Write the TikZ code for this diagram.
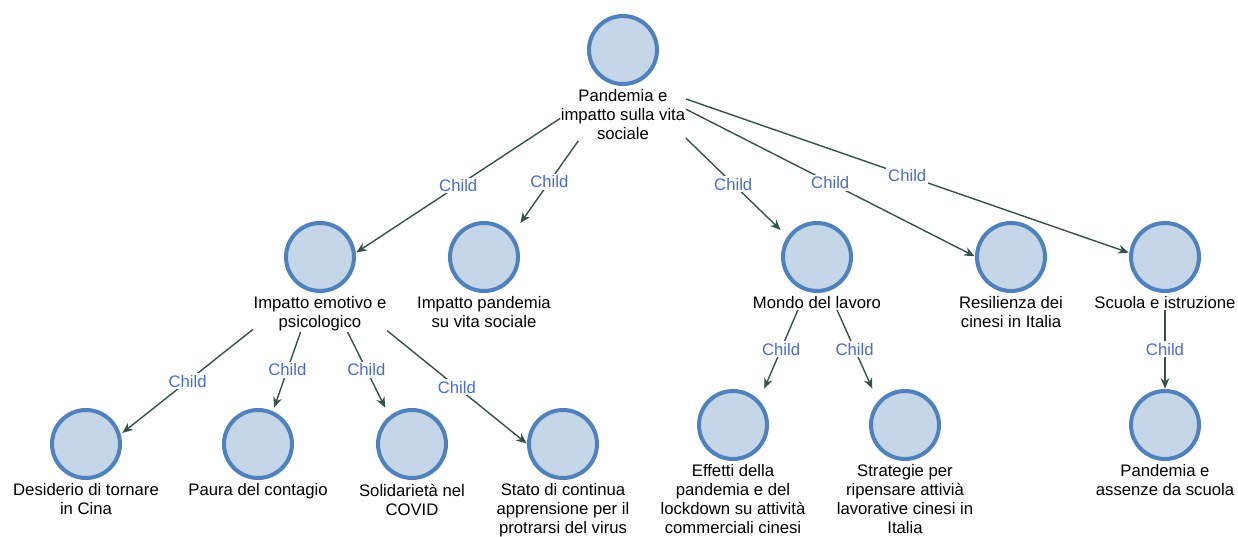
\documentclass[tikz,border=0pt]{standalone}
\usepackage{fontspec}
\setmainfont{Liberation Sans}
\usepackage{tikz}
\usetikzlibrary{arrows.meta,positioning,fit}
\usepackage{xcolor}
\definecolor{cmblue}{RGB}{79,129,189}
\definecolor{cmfill}{RGB}{197,214,233}
\definecolor{cmedge}{RGB}{52,82,78}
\definecolor{cmlabel}{RGB}{72,108,206}
\tikzstyle{concept} = [circle, draw=cmblue, fill=cmfill, line width=2.3pt, minimum size=1.36cm, inner sep=0]
\tikzstyle{caption} = [align=center, inner sep=0, font=\fontsize{9.5}{10.8}\selectfont]
\tikzstyle{group} = [inner sep=0]
\tikzstyle{arrow} = [->,>={Stealth[length=6pt,width=5pt]},line width=0.8pt,color=cmedge]
\tikzstyle{child} = [midway, fill=white, inner sep=1pt, text=cmlabel, font=\fontsize{9.5}{10.8}\selectfont]

\begin{document}
\begin{tikzpicture}[x=0.02cm, y=-0.02cm]
\useasboundingbox (0,0) rectangle (1238,537);
% Nodes
\node (root) [concept] at (623,50) {};
\node (root-t) [caption, below=2pt of root] {Pandemia e\\impatto sulla vita\\sociale};
\node (root-out) [group, fit=(root)(root-t)] {};

\node (emo) [concept] at (320,257) {};
\node (emo-t) [caption, below=2pt of emo] {Impatto emotivo e\\psicologico};
\node (emo-out) [group, fit=(emo)(emo-t)] {};
\node (emo-in) [group, fit=(emo)(emo-t.south)] {};
\node (pan) [concept] at (484,257) {};
\node (pan-t) [caption, below=2pt of pan] {Impatto pandemia\\su vita sociale};
\node (pan-in) [group, fit=(pan)(pan-t.south)] {};
\node (lav) [concept] at (817,257) {};
\node (lav-t) [caption, below=2pt of lav] {Mondo del lavoro};
\node (lav-out) [group, fit=(lav)(lav-t)] {};
\node (lav-in) [group, fit=(lav)(lav-t.south)] {};
\node (res) [concept] at (1011,257) {};
\node (res-t) [caption, below=2pt of res] {Resilienza dei\\cinesi in Italia};
\node (res-in) [group, fit=(res)(res-t.south)] {};
\node (scu) [concept] at (1165,257) {};
\node (scu-t) [caption, below=2pt of scu] {Scuola e istruzione};
\node (scu-out) [group, fit=(scu)(scu-t)] {};
\node (scu-in) [group, fit=(scu)(scu-t.south)] {};

\node (des) [concept] at (86,444) {};
\node (des-t) [caption, below=2pt of des] {Desiderio di tornare\\in Cina};
\node (des-in) [group, fit=(des)(des-t.south)] {};
\node (pau) [concept] at (258,444) {};
\node (pau-t) [caption, below=2pt of pau] {Paura del contagio};
\node (pau-in) [group, fit=(pau)(pau-t.south)] {};
\node (sol) [concept] at (412,444) {};
\node (sol-t) [caption, below=2pt of sol] {Solidarietà nel\\COVID};
\node (sol-in) [group, fit=(sol)(sol-t.south)] {};
\node (sta) [concept] at (563,444) {};
\node (sta-t) [caption, below=2pt of sta] {Stato di continua\\apprensione per il\\protrarsi del virus};
\node (sta-in) [group, fit=(sta)(sta-t.south)] {};

\node (eff) [concept] at (733,425) {};
\node (eff-t) [caption, below=2pt of eff] {Effetti della\\pandemia e del\\lockdown su attività\\commerciali cinesi};
\node (eff-in) [group, fit=(eff)(eff-t.south)] {};
\node (str) [concept] at (905,425) {};
\node (str-t) [caption, below=2pt of str] {Strategie per\\ripensare attivià\\lavorative cinesi in\\Italia};
\node (str-in) [group, fit=(str)(str-t.south)] {};
\node (ass) [concept] at (1165,425) {};
\node (ass-t) [caption, below=2pt of ass] {Pandemia e\\assenze da scuola};
\node (ass-in) [group, fit=(ass)(ass-t.south)] {};

% Arrows
\draw[arrow] (root-out) -- node[child] {Child} (emo-in);
\draw[arrow] (root-out) -- node[child] {Child} (pan-in);
\draw[arrow] (root-out) -- node[child] {Child} (lav-in);
\draw[arrow] (root-out) -- node[child] {Child} (res-in);
\draw[arrow] (root-out) -- node[child] {Child} (scu-in);
\draw[arrow] (emo-out) -- node[child] {Child} (des-in);
\draw[arrow] (emo-out) -- node[child] {Child} (pau-in);
\draw[arrow] (emo-out) -- node[child] {Child} (sol-in);
\draw[arrow] (emo-out) -- node[child] {Child} (sta-in);
\draw[arrow] (lav-out) -- node[child] {Child} (eff-in);
\draw[arrow] (lav-out) -- node[child] {Child} (str-in);
\draw[arrow] (scu-out) -- node[child] {Child} (ass-in);
\end{tikzpicture}
\end{document}
